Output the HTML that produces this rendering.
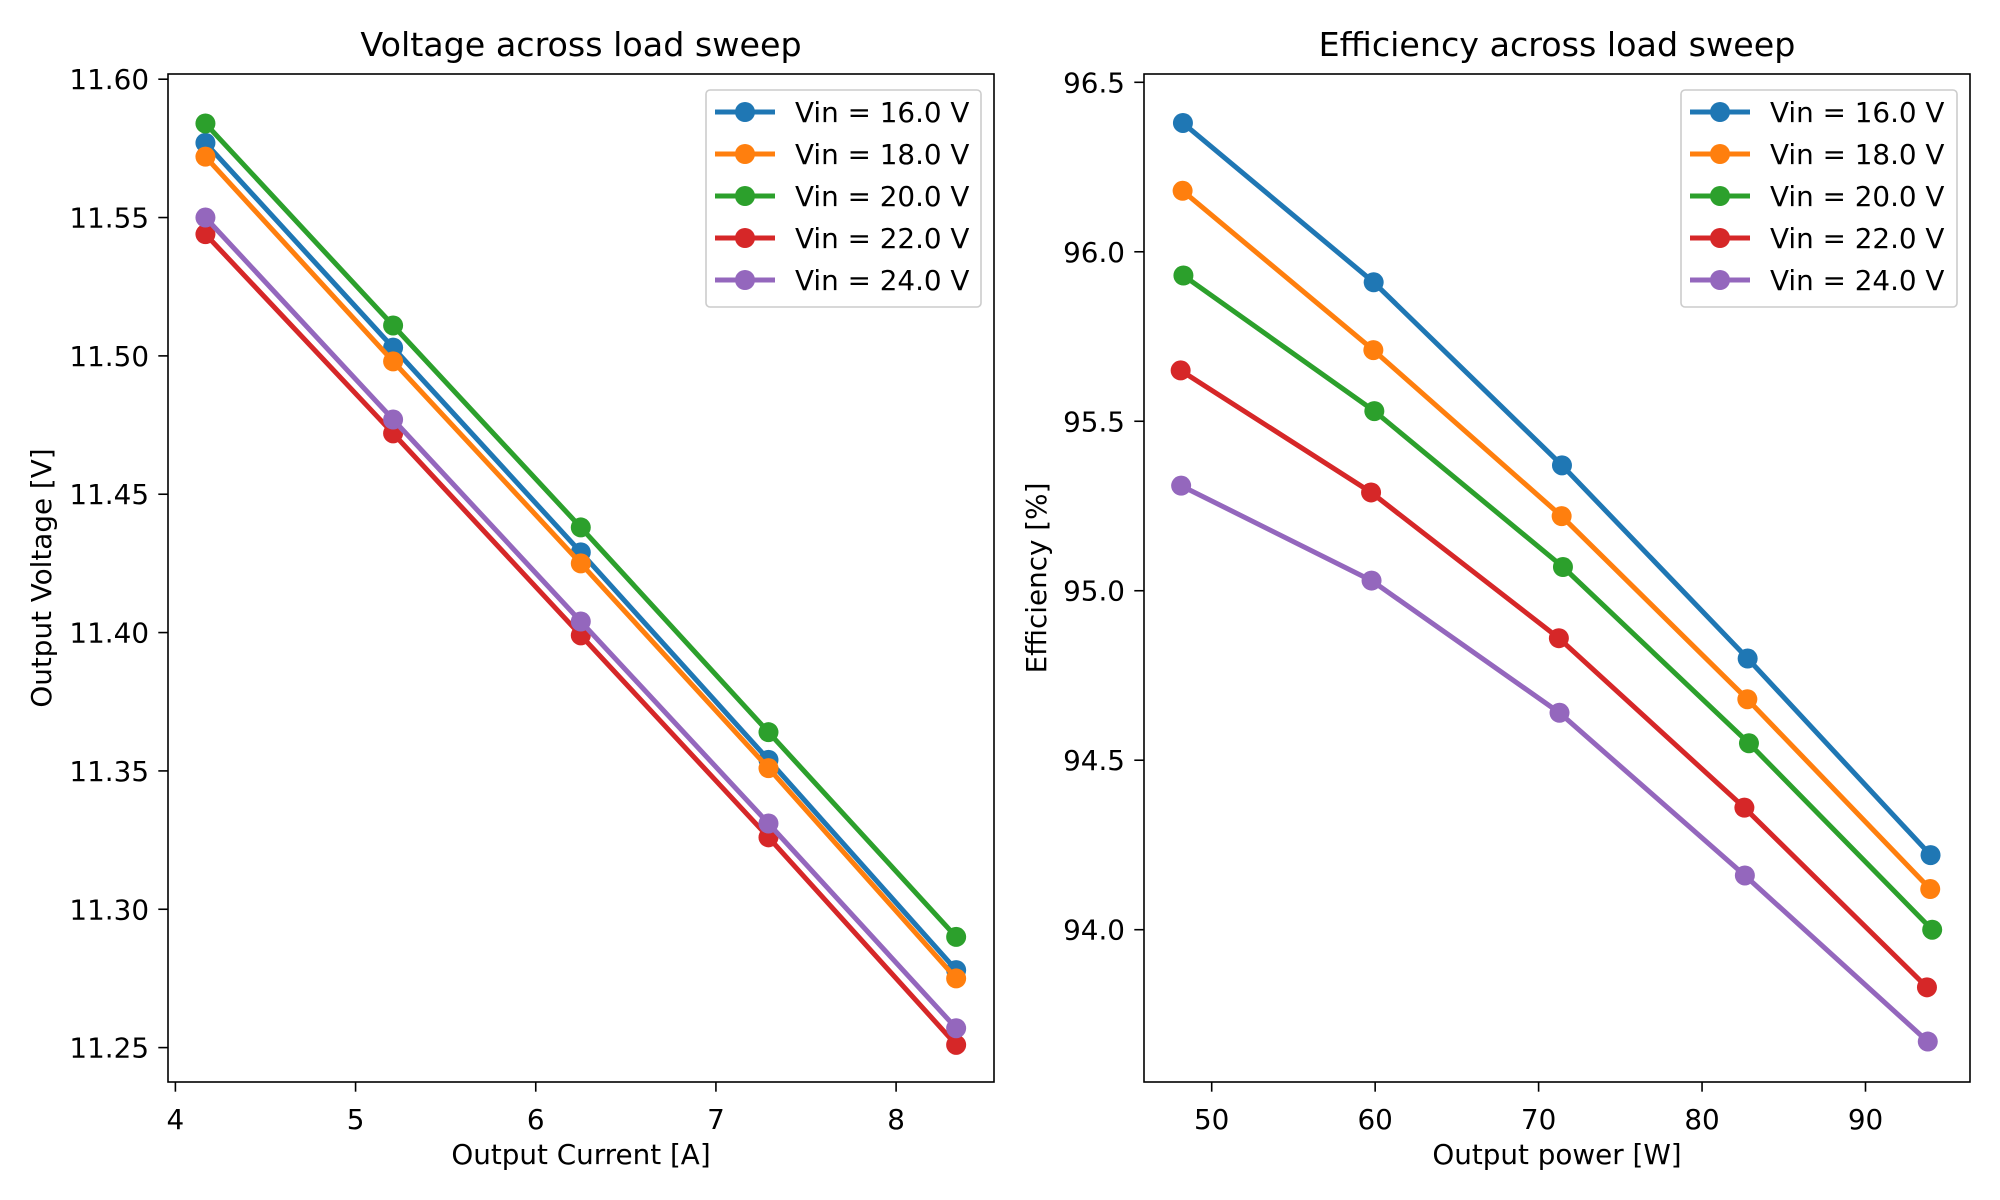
<!DOCTYPE html>
<html><head><meta charset="utf-8"><style>
html,body{margin:0;padding:0;background:#fff;}
svg{display:block;font-family:"DejaVu Sans","Liberation Sans",sans-serif;}
</style></head><body>
<svg id="fig" width="2000" height="1200" viewBox="0 0 2000 1200" xmlns="http://www.w3.org/2000/svg"></svg>
<script>
const seriesLabels=["Vin = 16.0 V","Vin = 18.0 V","Vin = 20.0 V","Vin = 22.0 V","Vin = 24.0 V"];
const colors=["#1f77b4","#ff7f0e","#2ca02c","#d62728","#9467bd"];
const currents=[4.1667,5.2083,6.25,7.2917,8.3333];
const voltBlue=[11.577,11.503,11.429,11.354,11.278];
const voltOrange=[11.572,11.498,11.425,11.351,11.275];
const voltGreen=[11.584,11.511,11.438,11.364,11.290];
const voltRed=[11.544,11.472,11.399,11.326,11.251];
const voltPurple=[11.550,11.477,11.404,11.331,11.257];
const powBlue=[48.24,59.91,71.43,82.79,93.98];
const powOrange=[48.22,59.89,71.41,82.77,93.96];
const powGreen=[48.27,59.95,71.49,82.87,94.08];
const powRed=[48.10,59.75,71.24,82.59,93.76];
const powPurple=[48.13,59.78,71.28,82.62,93.81];
const effBlue=[96.38,95.91,95.37,94.80,94.22];
const effOrange=[96.18,95.71,95.22,94.68,94.12];
const effGreen=[95.93,95.53,95.07,94.55,94.00];
const effRed=[95.65,95.29,94.86,94.36,93.83];
const effPurple=[95.31,95.03,94.64,94.16,93.67];
const leftXTicks=[4,5,6,7,8];
const leftYTicks=[11.25,11.30,11.35,11.40,11.45,11.50,11.55,11.60];
const rightXTicks=[50,60,70,80,90];
const rightYTicks=[94.0,94.5,95.0,95.5,96.0,96.5];

const NS="http://www.w3.org/2000/svg";
const svg=document.getElementById('fig');
function mk(tag,attrs,parent){const e=document.createElementNS(NS,tag);for(const k in attrs)e.setAttribute(k,attrs[k]);(parent||svg).appendChild(e);return e;}

function panel(cfg){
  const g=mk('g',{});
  
  
  const sx=v=>cfg.x0+(v-cfg.xa)*(cfg.x1-cfg.x0)/(cfg.xb-cfg.xa);
  const sy=v=>cfg.y0+(v-cfg.ya)*(cfg.y1-cfg.y0)/(cfg.yb-cfg.ya);
  cfg.ys.forEach((ys,i)=>{
    const xs=cfg.xs[i];
    const pts=xs.map((x,j)=>sx(x).toFixed(1)+','+sy(ys[j]).toFixed(1)).join(' ');
    const pl=mk('polyline',{points:pts,fill:'none',stroke:colors[i],'stroke-width':5,'stroke-linejoin':'round'},g);
    
    
    xs.forEach((x,j)=>{
      const c=mk('circle',{cx:sx(x),cy:sy(ys[j]),r:10,fill:colors[i]},g);
      
      
    });
  });
  const fr=mk('rect',{x:cfg.bx0,y:cfg.by0,width:cfg.bx1-cfg.bx0,height:cfg.by1-cfg.by0,fill:'none',stroke:'#000','stroke-width':1.6},g);
  
  
  cfg.xticks.forEach(t=>{
    const x=sx(t);
    mk('line',{x1:x,x2:x,y1:cfg.by1,y2:cfg.by1+9.7,stroke:'#000','stroke-width':1.6},g);
    const tx=mk('text',{x:x,y:1129,'font-size':27.8,'text-anchor':'middle'},g);
    tx.textContent=String(t);
    
    
  });
  cfg.yticks.forEach(t=>{
    const y=sy(t);
    mk('line',{x1:cfg.bx0-9.7,x2:cfg.bx0,y1:y,y2:y,stroke:'#000','stroke-width':1.6},g);
    const tx=mk('text',{x:cfg.bx0-19,y:y+10,'font-size':27.8,'text-anchor':'end'},g);
    tx.textContent=t.toFixed(cfg.ydec);
    
    
  });
  const ti=mk('text',{x:(cfg.bx0+cfg.bx1)/2,y:56,'font-size':33.3,'text-anchor':'middle'},g);
  ti.textContent=cfg.title;
  
  
  const xl=mk('text',{x:(cfg.bx0+cfg.bx1)/2,y:1164,'font-size':27.8,'text-anchor':'middle'},g);
  xl.textContent=cfg.xlabel;
  
  
  const yl=mk('text',{x:0,y:0,'font-size':27.8,'text-anchor':'middle',transform:`translate(${cfg.ylx},${(cfg.by0+cfg.by1)/2}) rotate(-90)`},g);
  yl.textContent=cfg.ylabel;
  
  
  const lg=mk('g',{},g);
  
  
  mk('rect',{x:cfg.lx,y:90,width:cfg.lw,height:217,rx:4,fill:'#fff','fill-opacity':0.8,stroke:'#ccc','stroke-width':1.6},lg);
  seriesLabels.forEach((s,i)=>{
    const y=112+i*42;
    const e=mk('g',{},lg);
    
    
    mk('line',{x1:cfg.lx+9,x2:cfg.lx+69,y1:y,y2:y,stroke:colors[i],'stroke-width':5},e);
    mk('circle',{cx:cfg.lx+39,cy:y,r:10,fill:colors[i]},e);
    const t=mk('text',{x:cfg.lx+89,y:y+10,'font-size':27.8},e);
    t.textContent=s;
  });
}
panel({name:'voltage-chart',x0:175.4,x1:896.1,xa:4,xb:8,y0:1047.6,y1:79.2,ya:11.25,yb:11.60,
  bx0:168,bx1:994,by0:74,by1:1082,xs:[currents,currents,currents,currents,currents],
  ys:[voltBlue,voltOrange,voltGreen,voltRed,voltPurple],xticks:leftXTicks,yticks:leftYTicks,ydec:2,
  title:'Voltage across load sweep',xlabel:'Output Current [A]',ylabel:'Output Voltage [V]',ylx:51,lx:706,lw:275});
panel({name:'efficiency-chart',x0:1211.7,x1:1865.5,xa:50,xb:90,y0:929.7,y1:82.3,ya:94.0,yb:96.5,
  bx0:1144,bx1:1970,by0:74,by1:1082,xs:[powBlue,powOrange,powGreen,powRed,powPurple],
  ys:[effBlue,effOrange,effGreen,effRed,effPurple],xticks:rightXTicks,yticks:rightYTicks,ydec:1,
  title:'Efficiency across load sweep',xlabel:'Output power [W]',ylabel:'Efficiency [%]',ylx:1046,lx:1681,lw:276});
</script>
</body></html>
